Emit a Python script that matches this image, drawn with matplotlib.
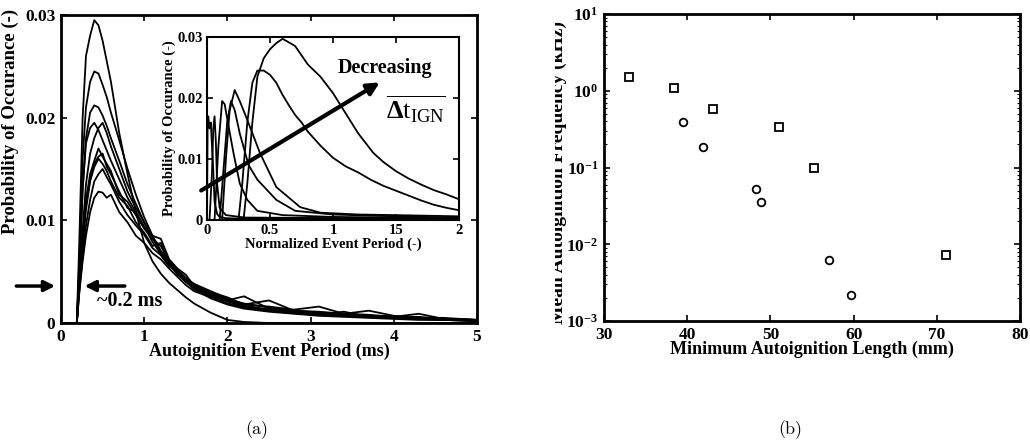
import numpy as np
import matplotlib
matplotlib.use('Agg')
from matplotlib import pyplot as plt
from matplotlib.transforms import Bbox

plt.rcParams['font.family'] = ['Liberation Serif', 'DejaVu Serif']
plt.rcParams['font.weight'] = 'bold'
plt.rcParams['axes.labelweight'] = 'bold'
plt.rcParams['mathtext.fontset'] = 'custom'
plt.rcParams['mathtext.rm'] = 'Liberation Serif'
plt.rcParams['mathtext.it'] = 'Liberation Serif:italic'
plt.rcParams['mathtext.bf'] = 'Liberation Serif:bold'

# ---- panel (a): event period distributions (ms) ----
period_ms = [0.0, 0.15, 0.19, 0.22, 0.26, 0.3, 0.35, 0.4, 0.45, 0.5, 0.55, 0.6, 0.7, 0.8, 0.9,
             1.0, 1.1, 1.2, 1.3, 1.4, 1.5, 1.6, 1.8, 2.0, 2.2, 2.5, 2.8, 3.1, 3.4, 3.7, 4.0,
             4.3, 4.6, 5.0]
prob_ms = [
    [0, 0, 0, 0.008, 0.02, 0.026, 0.028, 0.0295, 0.029, 0.0275, 0.0255, 0.0235, 0.0185, 0.0145,
     0.0108, 0.0078, 0.006, 0.0048, 0.0039, 0.0032, 0.0025, 0.0019, 0.001, 0.0003, 0.0001, 0, 0,
     0, 0, 0, 0, 0, 0, 0],
    [0, 0, 0, 0.006, 0.016, 0.021, 0.0235, 0.0245, 0.0243, 0.0232, 0.022, 0.0205, 0.0178, 0.015,
     0.0125, 0.0103, 0.0085, 0.007, 0.0058, 0.0048, 0.004, 0.0033, 0.0024, 0.0018, 0.0014, 0.0011,
     0.0009, 0.0007, 0.0006, 0.0005, 0.0004, 0.0003, 0.0003, 0.0002],
    [0, 0, 0, 0.005, 0.013, 0.018, 0.0205, 0.0212, 0.021, 0.0202, 0.0192, 0.018, 0.0158, 0.0135,
     0.0116, 0.0098, 0.0083, 0.0068, 0.0058, 0.0047, 0.0041, 0.0034, 0.0026, 0.0019, 0.0015,
     0.0012, 0.001, 0.0008, 0.0007, 0.0006, 0.0005, 0.0004, 0.0003, 0.0002],
    [0, 0, 0, 0.005, 0.013, 0.0175, 0.019, 0.0195, 0.0188, 0.0178, 0.0168, 0.0158, 0.014, 0.0122,
     0.0108, 0.0094, 0.0079, 0.0067, 0.0056, 0.0049, 0.004, 0.0035, 0.0027, 0.0021, 0.0016,
     0.0013, 0.001, 0.0009, 0.0008, 0.0006, 0.0005, 0.0004, 0.0004, 0.0003],
    [0, 0, 0, 0.004, 0.009, 0.0135, 0.0165, 0.018, 0.019, 0.0195, 0.0185, 0.0172, 0.015, 0.0128,
     0.0112, 0.0098, 0.0084, 0.007, 0.006, 0.005, 0.0043, 0.0036, 0.0028, 0.0022, 0.0017, 0.0013,
     0.0011, 0.0009, 0.0008, 0.0007, 0.0006, 0.0005, 0.0004, 0.0003],
    [0, 0, 0, 0.004, 0.008, 0.012, 0.0145, 0.0158, 0.017, 0.0162, 0.0155, 0.0148, 0.0125, 0.0118,
     0.0105, 0.0092, 0.0082, 0.0075, 0.006, 0.0052, 0.0044, 0.0038, 0.003, 0.0025, 0.0018, 0.0022,
     0.0012, 0.001, 0.0009, 0.0012, 0.0007, 0.0005, 0.0005, 0.0003],
    [0, 0, 0, 0.004, 0.0085, 0.0115, 0.014, 0.0155, 0.0162, 0.0165, 0.0152, 0.0145, 0.0128,
     0.0112, 0.0108, 0.0093, 0.0085, 0.0082, 0.0062, 0.0053, 0.0047, 0.0036, 0.0029, 0.0023,
     0.0019, 0.0015, 0.0012, 0.0011, 0.0009, 0.0008, 0.0006, 0.0006, 0.0004, 0.0003],
    [0, 0, 0, 0.0035, 0.0075, 0.011, 0.0138, 0.0152, 0.016, 0.0155, 0.0148, 0.0138, 0.0122,
     0.0114, 0.0098, 0.0088, 0.0075, 0.0078, 0.0058, 0.0049, 0.0042, 0.0038, 0.0031, 0.0024,
     0.0018, 0.0016, 0.0013, 0.0016, 0.0009, 0.0007, 0.0006, 0.0009, 0.0004, 0.0003],
    [0, 0, 0, 0.003, 0.0065, 0.0095, 0.012, 0.0138, 0.0145, 0.015, 0.0142, 0.0135, 0.0118, 0.0105,
     0.0095, 0.0086, 0.0073, 0.0066, 0.0055, 0.0052, 0.0041, 0.0034, 0.0027, 0.0022, 0.0026,
     0.0014, 0.0012, 0.0009, 0.0008, 0.0007, 0.0006, 0.0004, 0.0004, 0.0002],
    [0, 0, 0, 0.003, 0.006, 0.0085, 0.0108, 0.0122, 0.0128, 0.0127, 0.0122, 0.0125, 0.0108,
     0.0098, 0.0085, 0.0078, 0.0068, 0.0062, 0.0053, 0.0045, 0.0037, 0.0031, 0.0025, 0.0019,
     0.0015, 0.0012, 0.001, 0.0008, 0.0011, 0.0006, 0.0005, 0.0004, 0.0003, 0.0002],
]

# ---- inset: normalized event period ----
norm_x = [
    [0.29, 0.32, 0.36, 0.4, 0.45, 0.5, 0.55, 0.6, 0.66, 0.7, 0.75, 0.8, 0.9, 1.0, 1.1, 1.2, 1.32,
     1.4, 1.5, 1.6, 1.7, 1.8, 1.9, 2.0],
    [0.25, 0.28, 0.32, 0.36, 0.4, 0.45, 0.5, 0.55, 0.6, 0.65, 0.7, 0.75, 0.8, 0.9, 1.0, 1.1, 1.2,
     1.3, 1.4, 1.5, 1.6, 1.7, 1.8, 1.9, 2.0],
    [0.12, 0.15, 0.18, 0.22, 0.26, 0.32, 0.42, 0.55, 0.74, 0.9, 1.2, 1.5, 2.0],
    [0.1, 0.13, 0.16, 0.19, 0.22, 0.26, 0.33, 0.4, 0.55, 0.7, 1.0, 1.5, 2.0],
    [0.06, 0.09, 0.12, 0.14, 0.17, 0.21, 0.26, 0.32, 0.4, 0.6, 1.0, 2.0],
    [0.0, 0.005, 0.01, 0.02, 0.03, 0.04, 0.05, 0.06, 0.08, 0.1, 0.15, 0.3, 2.0],
    [0.0, 0.02, 0.04, 0.05, 0.06, 0.07, 0.08, 0.1, 0.15, 0.3, 2.0],
]
norm_p = [
    [0, 0.006, 0.016, 0.0235, 0.0265, 0.028, 0.029, 0.0297, 0.029, 0.0285, 0.027, 0.0255, 0.0235,
     0.0208, 0.0175, 0.0142, 0.011, 0.0095, 0.008, 0.0068, 0.0058, 0.0049, 0.0042, 0.0034],
    [0, 0.006, 0.016, 0.0225, 0.0245, 0.0245, 0.0238, 0.0225, 0.0205, 0.0188, 0.0172, 0.016,
     0.0145, 0.0122, 0.0102, 0.0088, 0.0078, 0.0066, 0.0056, 0.0048, 0.004, 0.0032, 0.0025, 0.002,
     0.0016],
    [0, 0.01, 0.018, 0.0213, 0.0195, 0.0164, 0.011, 0.0054, 0.0021, 0.0012, 0.0009, 0.0008, 0.0006],
    [0, 0.008, 0.016, 0.0195, 0.018, 0.0142, 0.009, 0.0066, 0.0033, 0.0015, 0.0009, 0.0006, 0.0004],
    [0, 0.012, 0.0195, 0.019, 0.0155, 0.011, 0.006, 0.0033, 0.0015, 0.0008, 0.0005, 0.0003],
    [0.0, 0.016, 0.017, 0.015, 0.016, 0.012, 0.008, 0.003, 0.001, 0.0005, 0.0003, 0.0002, 0.0001],
    [0, 0.0, 0.008, 0.015, 0.017, 0.013, 0.006, 0.002, 0.0008, 0.0004, 0.0002],
]

# ---- panel (b): frequency vs minimum length ----
len_sq = [33.0, 38.4, 43.1, 51.0, 55.2, 71.1]
freq_sq = [1.53, 1.09, 0.57, 0.34, 0.10, 0.0073]
len_ci = [39.5, 41.9, 48.3, 48.9, 57.1, 59.7]
freq_ci = [0.39, 0.187, 0.052, 0.036, 0.0062, 0.0022]

W, H = 1030.0, 446.0
fig = plt.figure(figsize=(10.30, 4.46), dpi=100)


def box(l, t, r, b):
    return [l / W, 1 - b / H, (r - l) / W, (b - t) / H]


def matlab_style(ax, lw=2.0):
    ax.tick_params(direction='in', top=True, right=True, length=4, width=1.2)
    ax.tick_params(which='minor', direction='in', top=True, right=True, length=2, width=0.8)
    for s in ax.spines.values():
        s.set_linewidth(lw)


ax1 = fig.add_axes(box(61, 15, 477, 323))
for y in prob_ms:
    ax1.plot(period_ms, y, color='black', lw=1.3)
ax1.set_xlim(0, 5)
ax1.set_ylim(0, 0.03)
ax1.set_xticks([0, 1, 2, 3, 4, 5])
ax1.set_yticks([0, 0.01, 0.02, 0.03])
ax1.set_yticklabels(['0', '0.01', '0.02', '0.03'])
matlab_style(ax1)
ax1.tick_params(labelsize=12.5, pad=4)
ax1.set_xlabel('Autoignition Event Period (ms)', fontsize=13, labelpad=-1)
fig.text(10 / W, 1 - 121 / H, 'Probability of Occurance (-)', rotation=90,
         ha='center', va='center', fontsize=13.5)

# ~0.2 ms arrows
ax1.annotate('', xy=(-0.036, 0.0036), xytext=(-0.57, 0.0036),
             arrowprops=dict(arrowstyle='-|>', lw=2.5, color='black', mutation_scale=16),
             annotation_clip=False)
ax1.annotate('', xy=(0.25, 0.0036), xytext=(0.8, 0.0036),
             arrowprops=dict(arrowstyle='-|>', lw=2.5, color='black', mutation_scale=16),
             annotation_clip=False)
ax1.text(0.43, 0.0021, '~0.2 ms', fontsize=14.5, ha='left', va='center')

ax2 = fig.add_axes(box(207, 37, 459, 220))
for xs, ys in zip(norm_x, norm_p):
    ax2.plot(xs, ys, color='black', lw=1.3)
ax2.set_xlim(0, 2)
ax2.set_ylim(0, 0.03)
ax2.set_xticks([0, 0.5, 1, 1.5, 2])
ax2.set_xticklabels(['0', '0.5', '1', '15', '2'])
ax2.set_yticks([0, 0.01, 0.02, 0.03])
ax2.set_yticklabels(['0', '0.01', '0.02', '0.03'])
matlab_style(ax2, lw=1.5)
ax2.tick_params(labelsize=10.5, pad=3)
ax2.set_xlabel('Normalized Event Period (-)', fontsize=10.5, labelpad=0)
ax2.set_ylabel('Probability of Occurance (-)', fontsize=10.5, labelpad=1)
ax2.annotate('', xy=(1.39, 0.0228), xytext=(-0.065, 0.0046),
             arrowprops=dict(arrowstyle='-|>', lw=3, color='black', mutation_scale=18),
             annotation_clip=False)
ax2.text(1.41, 0.0249, 'Decreasing', fontsize=14.5, ha='center', va='center')
ax2.text(1.66, 0.0182, r'$\overline{\Delta\mathdefault{t}_{\mathdefault{IGN}}}$',
         fontsize=19, fontweight='normal', ha='center', va='center')

ax3 = fig.add_axes(box(604, 14, 1020, 321))
ax3.plot(len_sq, freq_sq, 's', mfc='none', mec='black', ms=5.5, mew=1.3)
ax3.plot(len_ci, freq_ci, 'o', mfc='none', mec='black', ms=5.5, mew=1.3)
ax3.set_yscale('log')
ax3.set_xlim(30, 80)
ax3.set_ylim(1e-3, 1e1)
ax3.set_xticks([30, 40, 50, 60, 70, 80])
matlab_style(ax3)
ax3.tick_params(labelsize=12.5, pad=4)
ax3.set_xlabel('Minimum Autoignition Length (mm)', fontsize=13, labelpad=-1)
ylab_b = fig.text(558 / W, 1 - 172 / H, 'Mean Autoignition Frequency (kHz)', rotation=90,
                  ha='center', va='center', fontsize=14)
# right figure was cropped at its left edge in the source
ylab_b.set_clip_box(Bbox.from_extents(555, 0, W, H))
ylab_b.set_clip_on(True)

fig.text(257 / W, 1 - 430 / H, '(a)', family='cmr10', fontweight='normal',
         fontsize=13, ha='center', va='center')
fig.text(790 / W, 1 - 430 / H, '(b)', family='cmr10', fontweight='normal',
         fontsize=13, ha='center', va='center')

fig.savefig('out.png', dpi=100)
